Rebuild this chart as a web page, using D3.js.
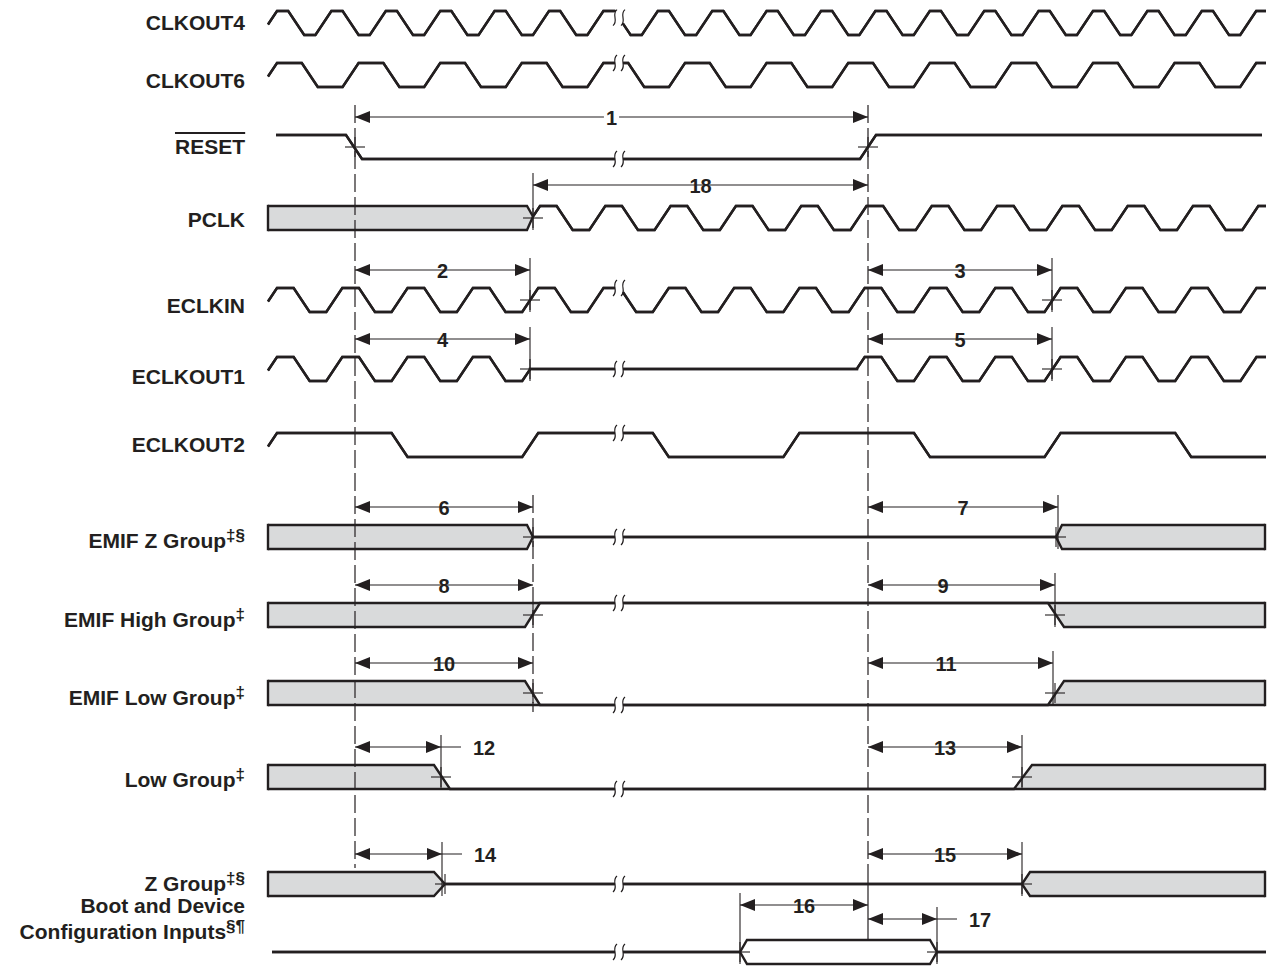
<!DOCTYPE html>
<html>
<head>
<meta charset="utf-8">
<script src="https://cdn.jsdelivr.net/npm/d3@7"></script>
<style>
  body { margin: 0; background: #fff; }
  svg { display: block; }
  text { font-family: "Liberation Sans", Arial, Helvetica, sans-serif; font-weight: bold; fill: #231f20; }
</style>
</head>
<body>
<div id="chart"></div>
<script>
// time runs left to right in units (0 = left edge of the waveforms)
var tEnd = 998;
var breakAt = 351;

var signalNames = ["CLKOUT4", "CLKOUT6", "RESET", "PCLK", "ECLKIN", "ECLKOUT1", "ECLKOUT2",
  "EMIF Z Group", "EMIF High Group", "EMIF Low Group", "Low Group", "Z Group", "Boot and Device Configuration Inputs"];
var labelLines = [["CLKOUT4"], ["CLKOUT6"], ["RESET"], ["PCLK"], ["ECLKIN"], ["ECLKOUT1"], ["ECLKOUT2"],
  ["EMIF Z Group"], ["EMIF High Group"], ["EMIF Low Group"], ["Low Group"], ["Z Group"],
  ["Boot and Device", "Configuration Inputs"]];
var labelSup = ["", "", "", "", "", "", "", "‡§", "‡", "‡", "‡", "‡§", "§¶"];
var hasBreak = [true, true, true, false, true, true, true, true, true, true, true, true, true];

// clocks: period and time of the first rising edge (midpoint)
var clocks = {
  clkout4:  { period: 54.4,  rise: 1 },
  clkout6:  { period: 81.6,  rise: 1 },
  eclkin:   { period: 65.3,  rise: 1 },
  pclk:     { period: 65.3,  rise: 264 },
  eclkout2: { period: 261.2, rise: 1 }
};
var edgeTime = 16;

// waveform segments [start, end, state]; gaps between segments are drawn as transitions
var waves = [
  [[0, 998, "clkout4"]],
  [[0, 998, "clkout6"]],
  [[8, 78, "hi"], [94, 592, "lo"], [608, 994, "hi"]],
  [[0, 259, "bus"], [265, 998, "pclk"]],
  [[0, 998, "eclkin"]],
  [[0, 262, "eclkin"], [262, 589, "z"], [589, 998, "eclkin"]],
  [[0, 998, "eclkout2"]],
  [[0, 259, "bus"], [265, 788, "z"], [794, 997, "bus"]],
  [[0, 257, "bus"], [272, 780, "hi"], [796, 997, "bus"]],
  [[0, 257, "bus"], [272, 780, "lo"], [796, 997, "bus"]],
  [[0, 166, "bus"], [182, 746, "lo"], [764, 997, "bus"]],
  [[0, 166, "bus"], [177, 754, "z"], [762, 997, "bus"]],
  [[4, 472, "z"], [479, 662, "open"], [669, 998, "z"]]
];

// crossing marks [row, time, side]
var crosses = [
  [2, 87, "both"], [2, 600, "both"],
  [3, 265, "both"],
  [4, 262, "both"], [4, 784, "both"],
  [5, 262, "both"], [5, 784, "both"],
  [7, 265, "left"], [7, 788, "right"],
  [8, 265, "both"], [8, 787, "both"],
  [9, 265, "both"], [9, 787, "both"],
  [10, 173, "both"], [10, 754, "both"],
  [11, 177, "left"], [11, 754, "right"],
  [12, 472, "right"], [12, 669, "left"]
];

// timing parameters [label, from, to, row]
var markers = [
  ["1", 87, 600, 2],
  ["18", 265, 600, 3],
  ["2", 87, 262, 4],
  ["3", 600, 784, 4],
  ["4", 87, 262, 5],
  ["5", 600, 784, 5],
  ["6", 87, 265, 7],
  ["7", 600, 790, 7],
  ["8", 87, 265, 8],
  ["9", 600, 787, 8],
  ["10", 87, 265, 9],
  ["11", 600, 785, 9],
  ["12", 87, 173, 10],
  ["13", 600, 754, 10],
  ["14", 87, 174, 11],
  ["15", 600, 754, 11],
  ["16", 472, 600, 12],
  ["17", 600, 669, 12]
];
var outsideLabels = ["12", "14", "17"];
var labelAt = { "9": 675, "11": 678 };

var resetEdges = [87, 600];
var emifGuide = 265;

// layout
var rowTops = [11, 63, 135, 206, 288, 357, 433, 525, 603, 681, 765, 872, 940];
var labelYs = [[22], [80], [146], [219], [305], [376], [444], [540], [619], [697], [779], [883], [905, 931]];
var amp = 24;
var markerLift = { "16": 35, "17": 21, "18": 21 };
var ink = "#231f20";

var svg = d3.select("#chart").append("svg")
  .attr("width", 1270)
  .attr("height", 968)
  .style("background-color", "#fff");

var x = d3.scaleLinear().domain([0, tEnd]).range([268, 1266]);
var rowY = d3.scaleOrdinal().domain(signalNames).range(rowTops);

function clockLevel(c, t) {
  var p = ((t - c.rise) % c.period + c.period) % c.period;
  var h = edgeTime / 2, half = c.period / 2;
  if (p < h) return 0.5 + 0.5 * p / h;
  if (p < half - h) return 1;
  if (p < half + h) return 1 - (p - (half - h)) / edgeTime;
  if (p < c.period - h) return 0;
  return (p - (c.period - h)) / edgeTime;
}

function clockCorners(c, t0, t1) {
  var out = [], h = edgeTime / 2;
  var k0 = Math.floor((t0 - c.rise) / c.period) - 1, k1 = Math.ceil((t1 - c.rise) / c.period) + 1;
  for (var k = k0; k <= k1; k++) {
    var m = c.rise + k * c.period;
    [m - h, m + h, m + c.period / 2 - h, m + c.period / 2 + h].forEach(function(t) {
      if (t > t0 && t < t1) out.push(t);
    });
  }
  return out;
}

function edges(state, t, top, bot) {
  var mid = (top + bot) / 2;
  if (state === "hi") return [top, top];
  if (state === "lo") return [bot, bot];
  if (state === "z") return [mid, mid];
  if (state === "bus" || state === "open") return [top, bot];
  var y = bot - clockLevel(clocks[state], t) * (bot - top);
  return [y, y];
}

function interp(pts, t, k) {
  for (var j = 1; j < pts.length; j++) {
    if (pts[j][0] >= t) {
      var a = pts[j - 1], b = pts[j];
      var f = b[0] === a[0] ? 0 : (t - a[0]) / (b[0] - a[0]);
      return a[k] + f * (b[k] - a[k]);
    }
  }
  return pts[pts.length - 1][k];
}

function clip(pts, a, b) {
  var lo = Math.max(a, pts[0][0]), hi = Math.min(b, pts[pts.length - 1][0]);
  var out = [[lo, interp(pts, lo, 1), interp(pts, lo, 2)]];
  pts.forEach(function(p) { if (p[0] > lo && p[0] < hi) out.push(p); });
  out.push([hi, interp(pts, hi, 1), interp(pts, hi, 2)]);
  return out;
}

function squiggle(cx, cy) {
  return "M" + (cx + 2) + "," + (cy - 8) + " C" + (cx - 4) + "," + (cy - 3) + " " +
    (cx + 4) + "," + (cy + 3) + " " + (cx - 2) + "," + (cy + 8);
}

var upperLine = d3.line().x(d => x(d[0])).y(d => d[1]);
var lowerLine = d3.line().x(d => x(d[0])).y(d => d[2]);
var busArea = d3.area().x(d => x(d[0])).y0(d => d[2]).y1(d => d[1]);

var fillLayer = svg.append("g");
var guideLayer = svg.append("g");
var waveLayer = svg.append("g");
var markLayer = svg.append("g");

// waveforms
signalNames.forEach(function(name, i) {
  var top = rowY(name), bot = top + amp;
  var pts = [];
  waves[i].forEach(function(s) {
    var ts = [s[0], s[1]];
    if (clocks[s[2]]) ts = ts.concat(clockCorners(clocks[s[2]], s[0], s[1]));
    ts.sort(d3.ascending).forEach(function(t) {
      var e = edges(s[2], t, top, bot);
      pts.push([t, e[0], e[1]]);
    });
  });

  if (waves[i].some(s => s[2] === "bus")) {
    fillLayer.append("path").datum(pts)
      .attr("d", busArea)
      .attr("fill", "#d9dadb");
  }

  var pieces = hasBreak[i] ? [clip(pts, -1, breakAt - 4), clip(pts, breakAt + 4, tEnd + 1)] : [pts];
  pieces.forEach(function(p) {
    [upperLine, lowerLine].forEach(function(gen) {
      waveLayer.append("path").datum(p)
        .attr("d", gen)
        .attr("fill", "none")
        .attr("stroke", ink)
        .attr("stroke-width", 2.4)
        .attr("stroke-linejoin", "miter");
    });
  });

  var first = waves[i][0], last = waves[i][waves[i].length - 1];
  [[first, first[0]], [last, last[1]]].forEach(function(e) {
    if (e[0][2] === "bus") {
      waveLayer.append("line")
        .attr("x1", x(e[1])).attr("x2", x(e[1]))
        .attr("y1", top - 1.2).attr("y2", bot + 1.2)
        .attr("stroke", ink).attr("stroke-width", 2.4);
    }
  });

  if (hasBreak[i]) {
    var cy = (interp(pts, breakAt, 1) + interp(pts, breakAt, 2)) / 2;
    [breakAt - 4, breakAt + 4].forEach(function(t) {
      waveLayer.append("path")
        .attr("d", squiggle(x(t), cy))
        .attr("fill", "none")
        .attr("stroke", ink)
        .attr("stroke-width", 1.2);
    });
  }

  // label
  var lines = labelLines[i];
  lines.forEach(function(txt, j) {
    var ly = labelYs[i][j];
    var t = svg.append("text")
      .attr("x", 245)
      .attr("y", ly)
      .attr("text-anchor", "end")
      .attr("dominant-baseline", "central")
      .style("font-size", "21px")
      .text(txt);
    if (j === lines.length - 1 && labelSup[i]) {
      t.append("tspan")
        .attr("dy", -5)
        .style("font-size", "17px")
        .text(labelSup[i]);
    }
    if (name === "RESET") {
      var bb = t.node().getBBox();
      svg.append("line")
        .attr("x1", bb.x).attr("x2", bb.x + bb.width)
        .attr("y1", ly - 13).attr("y2", ly - 13)
        .attr("stroke", ink).attr("stroke-width", 2);
    }
  });
});

// guide lines at the RESET edges
resetEdges.forEach(function(t) {
  guideLayer.append("line")
    .attr("x1", x(t)).attr("x2", x(t))
    .attr("y1", 105).attr("y2", 868)
    .attr("stroke", ink).attr("stroke-width", 1.2)
    .attr("stroke-dasharray", "18,5");
});
guideLayer.append("line")
  .attr("x1", x(resetEdges[1])).attr("x2", x(resetEdges[1]))
  .attr("y1", 868).attr("y2", 940)
  .attr("stroke", ink).attr("stroke-width", 1.2);
guideLayer.append("line")
  .attr("x1", x(emifGuide)).attr("x2", x(emifGuide))
  .attr("y1", 495).attr("y2", 712)
  .attr("stroke", ink).attr("stroke-width", 1.2)
  .attr("stroke-dasharray", "18,5");

// crossing marks
crosses.forEach(function(c) {
  var mid = rowTops[c[0]] + amp / 2, cx = x(c[1]);
  var x1 = c[2] === "right" ? cx : cx - 10;
  var x2 = c[2] === "left" ? cx : cx + 10;
  markLayer.append("line")
    .attr("x1", x1).attr("x2", x2)
    .attr("y1", mid).attr("y2", mid)
    .attr("stroke", ink).attr("stroke-width", 1.1);
  markLayer.append("line")
    .attr("x1", cx).attr("x2", cx)
    .attr("y1", mid - 10).attr("y2", mid + 10)
    .attr("stroke", ink).attr("stroke-width", 1.1);
});

// timing parameter arrows
function arrowHead(xt, y, dir) {
  return "M" + xt + "," + y + "L" + (xt - dir * 15) + "," + (y - 6) + "L" + (xt - dir * 15) + "," + (y + 6) + "Z";
}

markers.forEach(function(m) {
  var lab = m[0], top = rowTops[m[3]], mid = top + amp / 2;
  var ay = top - (markerLift[lab] || 18);
  var xa = x(m[1]), xb = x(m[2]);

  // extension lines at ends that are not on the reset guides
  [m[1], m[2]].forEach(function(t) {
    if (resetEdges.indexOf(t) >= 0) return;
    if (t === emifGuide && m[3] >= 7 && m[3] <= 9) return;
    markLayer.append("line")
      .attr("x1", x(t)).attr("x2", x(t))
      .attr("y1", ay - 12).attr("y2", mid + 12)
      .attr("stroke", ink).attr("stroke-width", 1.1);
  });

  var outside = outsideLabels.indexOf(lab) >= 0;
  markLayer.append("line")
    .attr("x1", xa).attr("x2", outside ? xb + 20 : xb)
    .attr("y1", ay).attr("y2", ay)
    .attr("stroke", ink).attr("stroke-width", 1.2);
  markLayer.append("path").attr("d", arrowHead(xa, ay, -1)).attr("fill", ink);
  markLayer.append("path").attr("d", arrowHead(xb, ay, 1)).attr("fill", ink);

  var tx = outside ? xb + 32 : x(labelAt[lab] !== undefined ? labelAt[lab] : (m[1] + m[2]) / 2);
  var t = markLayer.append("text")
    .attr("x", tx)
    .attr("y", ay + 1)
    .attr("text-anchor", outside ? "start" : "middle")
    .attr("dominant-baseline", "central")
    .style("font-size", "20px")
    .text(lab);
  if (!outside) {
    var bb = t.node().getBBox();
    markLayer.insert("rect", "text")
      .attr("x", bb.x - 2).attr("y", ay - 3)
      .attr("width", bb.width + 4).attr("height", 6)
      .attr("fill", "#fff");
  }
});
</script>
</body>
</html>
